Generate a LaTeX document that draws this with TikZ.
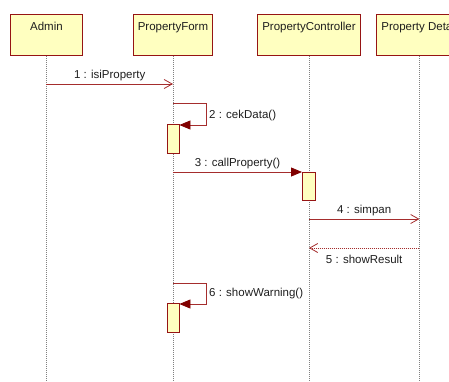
\documentclass[tikz,border=0pt]{standalone}
\usepackage{fontspec}
\setmainfont{Liberation Sans}
\usetikzlibrary{arrows.meta}
\definecolor{boxred}{RGB}{150,20,20}
\definecolor{linered}{RGB}{165,45,45}
\definecolor{tipred}{RGB}{128,0,0}
\definecolor{boxfill}{RGB}{255,255,192}
\definecolor{txt}{RGB}{30,30,30}
\begin{document}
\begin{tikzpicture}[x=1pt,y=-1pt,
  every node/.style={font=\fontsize{11.5}{14}\selectfont, text=txt},
  obj/.style={draw=boxred, fill=boxfill, line width=0.9pt, anchor=north west,
    minimum height=41pt, inner xsep=0pt, inner ysep=8pt, text height=8pt, text depth=17pt},
  act/.style={draw=boxred, fill=boxfill, line width=0.9pt, anchor=north,
    minimum width=12pt, inner sep=0pt},
  life/.style={draw=gray, line width=0.6pt, dash pattern=on 1pt off 1pt},
  msg/.style={draw=linered, line width=0.8pt},
  opentip/.style={-{Straight Barb[length=8pt,width=9pt,line width=0.8pt,color=linered]}},
  filltip/.style={-{Triangle[length=11pt,width=9pt,color=tipred]}},
  lbl/.style={inner sep=1pt}
]
\useasboundingbox (0,0) rectangle (449,381);
\clip (0,0) rectangle (449,381);
% objects
\node[obj, minimum width=72pt] (admin) at (10,14) {Admin};
\node[obj, minimum width=79pt] (pf) at (133,14) {PropertyForm};
\node[obj, minimum width=103pt] (pc) at (257,14) {PropertyController};
\node[obj, minimum width=86pt] (pd) at (376,14) {Property Detail};
% lifeline ends
\coordinate (adminEnd) at (admin.south |- 0,381);
\coordinate (pfEnd) at (pf.south |- 0,381);
\coordinate (pcEnd) at (pc.south |- 0,381);
\coordinate (pdEnd) at (pd.south |- 0,381);
\draw[life] (admin.south) -- (adminEnd);
\draw[life] (pf.south) -- (pfEnd);
\draw[life] (pc.south) -- (pcEnd);
\draw[life] (pd.south) -- (pdEnd);
% activations
\node[act, minimum height=29pt] (a1) at (pf.south |- 0,124) {};
\node[act, minimum height=28pt, minimum width=13pt] (a2) at (pc.south |- 0,172) {};
\node[act, minimum height=29pt] (a3) at (pf.south |- 0,303) {};
% message 1
\coordinate (m1s) at (admin.south |- 0,84);
\coordinate (m1e) at (pf.south |- 0,84);
\draw[msg, opentip] (m1s) -- node[lbl, above=2pt] {1 : isiProperty} (m1e);
% message 2 (self)
\coordinate (m2s) at (pf.south |- 0,103);
\coordinate (m2e) at (a1.east |- 0,125);
\draw[msg, filltip] (m2s) -- (206,103) -- (206,125) -- (m2e);
\node[lbl, anchor=west] (l2) at (208,116) {2 : cekData()};
% message 3
\coordinate (m3s) at (pf.south |- 0,172);
\draw[msg, filltip] (m3s) -- node[lbl, above=2pt] {3 : callProperty()} (a2.north west);
% message 4
\coordinate (m4s) at (pc.south |- 0,219);
\coordinate (m4e) at (pd.south |- 0,219);
\draw[msg, opentip] (m4s) -- node[lbl, above=2pt] {4 : simpan} (m4e);
% message 5 (return)
\coordinate (m5s) at (pd.south |- 0,248);
\coordinate (m5e) at (pc.south |- 0,248);
\draw[msg, opentip, dash pattern=on 1pt off 1pt] (m5s) -- node[lbl, below=6pt] {5 : showResult} (m5e);
% message 6 (self)
\coordinate (m6s) at (pf.south |- 0,283);
\coordinate (m6e) at (a3.east |- 0,304);
\draw[msg, filltip] (m6s) -- (206,283) -- (206,304) -- (m6e);
\node[lbl, anchor=west] (l6) at (208,294) {6 : showWarning()};
\end{tikzpicture}
\end{document}
